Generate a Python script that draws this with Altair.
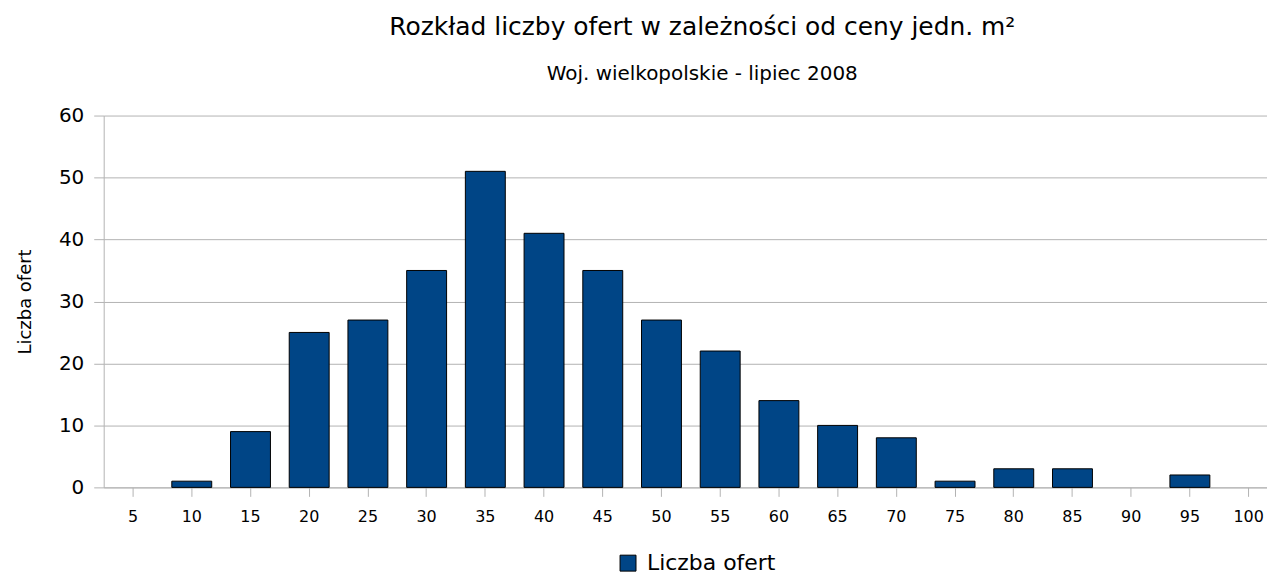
import altair as alt
import pandas as pd

categories = ["5", "10", "15", "20", "25", "30", "35", "40", "45", "50",
              "55", "60", "65", "70", "75", "80", "85", "90", "95", "100"]
counts = [0, 1, 9, 25, 27, 35, 51, 41, 35, 27, 22, 14, 10, 8, 1, 3, 3, 0, 2, 0]
series_name = "Liczba ofert"

df = pd.DataFrame({"cena": categories, "liczba": counts, "seria": [series_name] * len(categories)})

FONT = "DejaVu Sans"
GRID = "#b3b3b3"

chart = (
    alt.Chart(df)
    .transform_filter("datum.liczba > 0")
    .mark_bar(stroke="black", strokeWidth=1)
    .encode(
        x=alt.X(
            "cena:N",
            sort=categories,
            scale=alt.Scale(domain=categories, range=[0, 1178], paddingInner=0.32, paddingOuter=0.16),
            axis=alt.Axis(
                title=None, labelAngle=0, labelFontSize=16, labelFont=FONT,
                labelColor="#000000", tickColor=GRID, tickSize=9, domainColor=GRID,
                labelPadding=12, grid=False,
            ),
        ),
        y=alt.Y(
            "liczba:Q",
            scale=alt.Scale(domain=[0, 60], nice=False),
            axis=alt.Axis(
                title="Liczba ofert", values=[0, 10, 20, 30, 40, 50, 60],
                labelFontSize=20, labelFont=FONT, labelColor="#000000",
                tickColor=GRID, tickSize=10, domainColor=GRID, gridColor=GRID,
                labelPadding=10, titleFont=FONT, titleFontSize=18,
                titleFontWeight="normal", titleColor="#000000", titlePadding=24,
            ),
        ),
        color=alt.Color(
            "seria:N",
            scale=alt.Scale(range=["#004586"]),
            legend=alt.Legend(
                title=None, orient="none", legendX=515, legendY=438,
                symbolType="square", symbolSize=256, symbolStrokeColor="black",
                symbolStrokeWidth=1, labelFontSize=22, labelFont=FONT,
                labelColor="#000000", labelOffset=8,
            ),
        ),
    )
    .properties(
        width=1167,
        height=373,
        autosize=alt.AutoSizeParams(type="none"),
        padding={"left": 96, "top": 107, "right": 0, "bottom": 86},
        title=alt.Title(
            text="Rozkład liczby ofert  w zależności od ceny jedn. m²",
            subtitle="Woj. wielkopolskie - lipiec 2008",
            anchor="middle", frame="group", dx=17, offset=22,
            font=FONT, fontSize=25, fontWeight="normal", color="#000000",
            subtitleFont=FONT, subtitleFontSize=20, subtitleColor="#000000",
            subtitlePadding=24,
        ),
    )
    .configure_view(stroke=None)
)

chart.save("out.html", embed_options={"renderer": "svg", "actions": False})
